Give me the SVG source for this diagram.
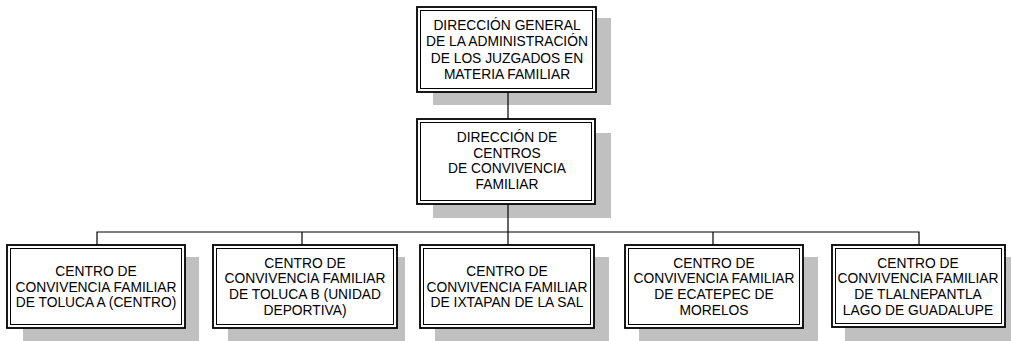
<svg xmlns="http://www.w3.org/2000/svg" width="1011" height="341" viewBox="0 0 1011 341">
<style>
.sh{fill:#c0c0c0;stroke:none}
.bo{fill:#fff;stroke:#000;stroke-width:1.8}
.bi{fill:none;stroke:#000;stroke-width:1}
.t{font-family:"Liberation Sans",Arial,sans-serif;font-size:13.8px;fill:#000;text-anchor:middle}
.c{stroke:#000;stroke-width:1.2;fill:none}
</style>
<rect width="1011" height="341" fill="#fff"/>
<g id="n-dir-general">
<rect class="sh" x="433" y="18" width="178" height="87"/>
<rect class="bo" x="417" y="7" width="179" height="85"/>
<rect class="bi" x="420.5" y="10.5" width="172" height="78"/>
<text class="t" x="507"><tspan x="507" y="29.5">DIRECCIÓN GENERAL</tspan><tspan x="507" y="46.2">DE LA ADMINISTRACIÓN</tspan><tspan x="507" y="62.9">DE LOS JUZGADOS EN</tspan><tspan x="507" y="79.4">MATERIA FAMILIAR</tspan></text>
</g>
<g id="n-dir-centros">
<rect class="sh" x="433" y="133" width="178" height="85"/>
<rect class="bo" x="417" y="119" width="178" height="85"/>
<rect class="bi" x="420.5" y="122.5" width="171" height="78"/>
<text class="t"><tspan x="507" y="141.7">DIRECCIÓN DE</tspan><tspan x="507" y="157.5">CENTROS</tspan><tspan x="507" y="173.3">DE CONVIVENCIA</tspan><tspan x="507" y="189">FAMILIAR</tspan></text>
</g>
<g id="n-toluca-a">
<rect class="sh" x="23" y="257" width="176" height="84"/>
<rect class="bo" x="7" y="245" width="178" height="83"/>
<rect class="bi" x="10.5" y="248.5" width="171" height="76"/>
<text class="t"><tspan x="96" y="276">CENTRO DE</tspan><tspan x="96" y="291.7">CONVIVENCIA FAMILIAR</tspan><tspan x="96" y="307.3">DE TOLUCA A (CENTRO)</tspan></text>
</g>
<g id="n-toluca-b">
<rect class="sh" x="228" y="257" width="177" height="84"/>
<rect class="bo" x="213" y="245" width="184" height="83"/>
<rect class="bi" x="216.5" y="248.5" width="177" height="76"/>
<text class="t"><tspan x="305" y="267.7">CENTRO DE</tspan><tspan x="305" y="283.3">CONVIVENCIA FAMILIAR</tspan><tspan x="305" y="299">DE TOLUCA B (UNIDAD</tspan><tspan x="305" y="314.5">DEPORTIVA)</tspan></text>
</g>
<g id="n-ixtapan">
<rect class="sh" x="435" y="257" width="174" height="84"/>
<rect class="bo" x="420" y="245" width="174" height="83"/>
<rect class="bi" x="423.5" y="248.5" width="167" height="76"/>
<text class="t"><tspan x="507" y="276">CENTRO DE</tspan><tspan x="507" y="291.7">CONVIVENCIA FAMILIAR</tspan><tspan x="507" y="307.3">DE IXTAPAN DE LA SAL</tspan></text>
</g>
<g id="n-ecatepec">
<rect class="sh" x="639" y="257" width="179" height="84"/>
<rect class="bo" x="625" y="245" width="178" height="83"/>
<rect class="bi" x="628.5" y="248.5" width="171" height="76"/>
<text class="t"><tspan x="714" y="267.7">CENTRO DE</tspan><tspan x="714" y="283.3">CONVIVENCIA FAMILIAR</tspan><tspan x="714" y="299">DE ECATEPEC DE</tspan><tspan x="714" y="314.5">MORELOS</tspan></text>
</g>
<g id="n-tlalnepantla">
<rect class="sh" x="845" y="257" width="166" height="84"/>
<rect class="bo" x="832" y="245" width="173" height="82"/>
<rect class="bi" x="835.5" y="248.5" width="166" height="75"/>
<text class="t"><tspan x="918" y="267.7">CENTRO DE</tspan><tspan x="918" y="283.3">CONVIVENCIA FAMILIAR</tspan><tspan x="918" y="299">DE TLALNEPANTLA</tspan><tspan x="918" y="314.5">LAGO DE GUADALUPE</tspan></text>
</g>
<g id="connectors">
<line class="c" x1="508" y1="92" x2="508" y2="119"/>
<line class="c" x1="508" y1="204" x2="508" y2="245"/>
<polyline class="c" points="97,245 97,232 919,232 919,245"/>
<line class="c" x1="302" y1="232" x2="302" y2="245"/>
<line class="c" x1="713" y1="232" x2="713" y2="245"/>
</g>
</svg>
